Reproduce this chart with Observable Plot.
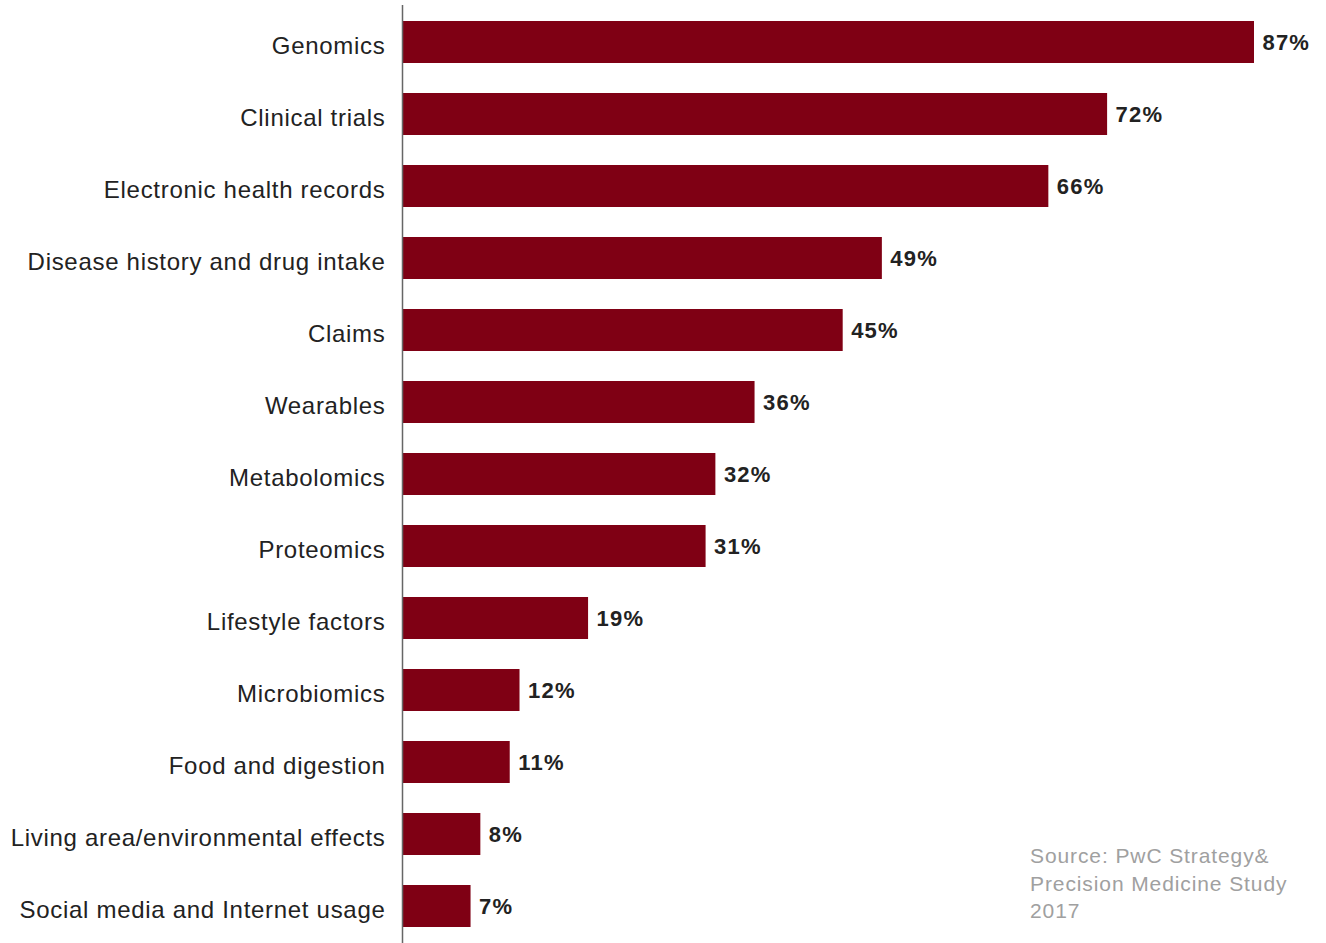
<!DOCTYPE html>
<html>
<head>
<meta charset="utf-8">
<script src="https://cdn.jsdelivr.net/npm/d3@7"></script>
<script src="https://cdn.jsdelivr.net/npm/@observablehq/plot@0.6"></script>
<style>
  html, body { margin: 0; padding: 0; background: #fff; }
  #wrap { position: relative; width: 1326px; height: 943px; overflow: hidden; }
  #source { position: absolute; left: 1030px; top: 842px; font-family: "Liberation Sans", Arial, sans-serif; font-size: 21px; letter-spacing: 0.9px; line-height: 27.5px; color: #a0a0a0; }
  #chart g[aria-label="y-axis tick label"] text { letter-spacing: 0.7px; }
  #chart g[aria-label="text"] text { letter-spacing: 1.2px; }
</style>
</head>
<body>
<div id="wrap">
  <div id="chart"></div>
  <div id="source">Source: PwC Strategy&amp;<br>Precision Medicine Study<br>2017</div>
</div>
<script>
const categories = [
  "Genomics", "Clinical trials", "Electronic health records",
  "Disease history and drug intake", "Claims", "Wearables",
  "Metabolomics", "Proteomics", "Lifestyle factors", "Microbiomics",
  "Food and digestion", "Living area/environmental effects",
  "Social media and Internet usage"
];
const values = [87, 72, 66, 49, 45, 36, 32, 31, 19, 12, 11, 8, 7];

const data = categories.map((c, i) => ({category: c, value: values[i]}));

const chart = Plot.plot({
  width: 1326,
  height: 943,
  marginLeft: 402,
  marginRight: 72,
  marginTop: 5,
  marginBottom: 0,
  style: {fontFamily: "'Liberation Sans', Arial, sans-serif", background: "#fff"},
  x: {domain: [0, 87], axis: null},
  y: {domain: categories, paddingInner: 0.42, paddingOuter: 0.2, label: null},
  marks: [
    Plot.barX(data, {x: "value", y: "category", fill: "#7f0014"}),
    Plot.ruleX([0], {stroke: "#666", strokeWidth: 1.5}),
    Plot.axisY({tickSize: 0, tickPadding: 17, fontSize: 24, fill: "#222", dy: 4, label: null}),
    Plot.text(data, {x: "value", y: "category", text: d => d.value + "%", textAnchor: "start", dx: 8, dy: 0, fontSize: 22, fontWeight: "bold", fill: "#222"})
  ]
});
document.getElementById("chart").appendChild(chart);
</script>
</body>
</html>
